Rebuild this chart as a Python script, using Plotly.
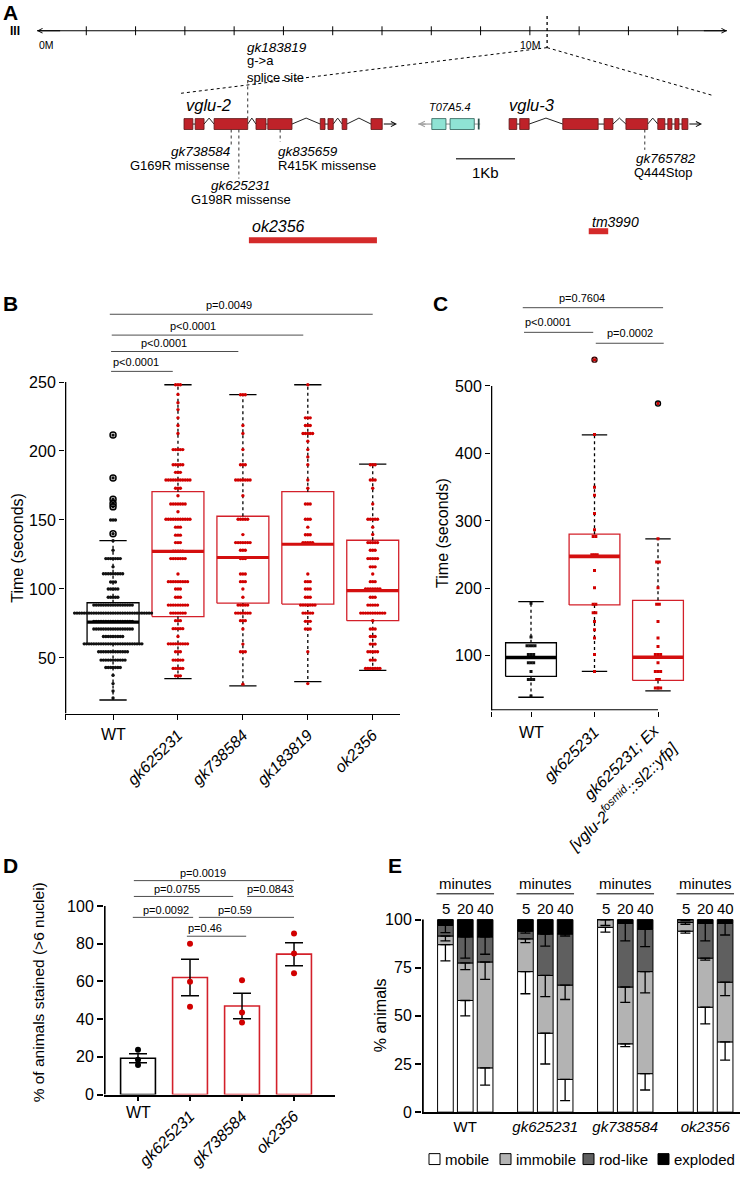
import plotly.graph_objects as go

W, H = 742, 1180
FONT = "Liberation Sans, Arial, sans-serif"
RED = "#d3202a"
DOT_RED = "#d10000"
EXON_RED = "#bf2229"
EXON_EDGE = "#5a1616"
CYAN = "#8fe3d4"
SIG = "#4d4d4d"

# ---------------- Panel A data ----------------
chrom_len_mb = 14.0
chrom_ticks_mb = list(range(1, 14))
chrom_label_text = ["0M", "10M"]
chrom_label_mb = [0, 10]
locus_mb = 10.35

vglu2_exon_start = [0.00, 0.19, 0.51, 1.22, 1.42, 2.31, 2.44, 2.68, 3.17]
vglu2_exon_end = [0.15, 0.34, 1.08, 1.39, 1.83, 2.39, 2.53, 2.76, 3.36]
vglu2_intron_peak = [False, True, True, False, True, False, True, True]
vglu2_arrow_end = 3.61
t07_exon_start = [4.20, 4.51]
t07_exon_end = [4.44, 4.92]
t07_tick = 4.98
t07_span = [3.97, 5.02]
vglu3_exon_start = [5.51, 5.69, 6.42, 7.12, 7.49, 8.03, 8.20, 8.32, 8.44]
vglu3_exon_end = [5.64, 5.85, 7.02, 7.27, 7.86, 8.15, 8.27, 8.39, 8.54]
vglu3_intron_peak = [False, True, False, True, True, False, False, False]
vglu3_arrow_end = 8.78

mut_names = ["gk183819", "gk738584", "gk625231", "gk835659", "gk765782"]
mut_kb = [1.08, 0.80, 0.93, 1.63, 7.81]
mut_desc = ["g-&gt;a<br>splice site", "G169R missense", "G198R missense", "R415K missense", "Q444Stop"]
del_names = ["ok2356", "tm3990"]
del_start = [1.10, 6.86]
del_end = [3.27, 7.19]
scalebar_kb = [4.61, 5.61]

# ---------------- Panel B data ----------------
b_groups = ["WT", "gk625231", "gk738584", "gk183819", "ok2356"]
b_q1 = [60.4, 80.0, 89.7, 89.0, 77.0]
b_med = [76.0, 127.3, 122.8, 132.4, 98.8]
b_q3 = [90.0, 170.5, 152.7, 170.5, 135.3]
b_lo = [19.5, 35.0, 29.7, 32.8, 41.0]
b_hi = [135.0, 248.0, 240.8, 248.0, 190.4]
b_wt_vals = [211.5, 180.5, 165, 162, 159.5, 150, 140, 135, 128, 122, 116, 111, 105, 100, 94, 88.3, 82.5, 76.5, 71, 65.5, 60.2, 54.5, 48.4, 43, 37.4, 31.4, 26, 21]
b_wt_counts = [1, 1, 1, 1, 1, 3, 1, 1, 1, 7, 1, 9, 3, 5, 5, 17, 33, 17, 17, 9, 25, 13, 11, 7, 1, 1, 1, 1]
b_gk625231_vals = [248, 241, 235, 230, 224, 218.5, 212.7, 201, 190, 184.5, 179, 173, 167.6, 161.6, 156, 150.5, 144.8, 139, 133.6, 127.3, 122, 110.8, 105.3, 100, 94, 88.3, 82.5, 77, 71.2, 65.5, 60.2, 54.5, 48.4, 42.4, 37]
b_gk625231_counts = [3, 1, 1, 1, 1, 1, 1, 5, 5, 3, 11, 3, 1, 7, 1, 11, 3, 3, 3, 5, 7, 1, 9, 3, 3, 9, 7, 3, 5, 1, 9, 3, 5, 5, 3]
b_gk738584_vals = [240.8, 218.5, 212.7, 201, 190, 179, 167.6, 150.5, 139.4, 133.6, 128, 122, 110.8, 105.3, 100, 94, 88.3, 82.5, 77, 71, 60, 54.5, 31]
b_gk738584_counts = [3, 1, 1, 1, 3, 7, 1, 5, 1, 7, 3, 3, 3, 3, 1, 1, 5, 7, 3, 1, 1, 3, 1]
b_gk183819_vals = [248, 224, 218.5, 212.7, 207, 201, 195.7, 190, 179, 173, 161.6, 150.5, 144.8, 139.3, 133.6, 110.8, 105.3, 100, 94, 88.3, 82.5, 76.5, 71, 54.5, 31.4]
b_gk183819_counts = [1, 3, 3, 5, 1, 1, 1, 1, 1, 1, 3, 3, 1, 3, 5, 1, 3, 3, 3, 7, 5, 3, 3, 1, 1]
b_ok2356_vals = [190, 179, 173, 161.6, 150.5, 144.8, 139.5, 133.6, 128, 122, 116, 110.8, 105.3, 100, 94, 88.3, 82.5, 77, 71, 65.5, 60, 54.5, 48.4, 42.4]
b_ok2356_counts = [3, 3, 1, 1, 5, 1, 1, 5, 3, 5, 3, 1, 3, 7, 3, 5, 11, 1, 3, 3, 3, 5, 3, 7]
b_wt_outliers = [211.5, 180.5, 165, 162, 159.5, 140]
b_sig_text = ["p&lt;0.0001", "p&lt;0.0001", "p&lt;0.0001", "p=0.0049"]
b_sig_x0 = [-0.03, -0.03, -0.02, -0.05]
b_sig_x1 = [0.92, 1.93, 2.93, 4.0]
b_sig_y = [257.7, 272.1, 284.0, 299.1]
b_sig_tx = [0.35, 0.79, 1.23, 1.78]

# ---------------- Panel C data ----------------
c_labels = ["WT", "<i>gk625231</i>", "<i>gk625231; Ex</i>", "<i>[vglu-2<sup>fosmid</sup>::sl2::yfp]</i>"]
c_q1 = [69.5, 175.5, 63.6]
c_med = [97.5, 247.5, 98.0]
c_q3 = [119.5, 280.4, 182.3]
c_lo = [38.7, 77.0, 48.0]
c_hi = [180.4, 427.5, 273.5]
c_wt_vals = [178, 128, 115, 102, 90, 77, 65, 40.5]
c_wt_counts = [1, 1, 4, 3, 3, 1, 3, 1]
c_gk_vals = [539, 428, 350, 338, 311, 287, 277, 250, 226.5, 201, 176.5, 164, 151, 138.7, 126.5, 102, 77]
c_gk_counts = [1, 1, 1, 1, 1, 1, 2, 3, 1, 1, 2, 2, 1, 1, 1, 1, 1]
c_ex_vals = [474, 273.5, 239, 201, 176.5, 151, 126.5, 114, 102, 90, 77, 65, 52.5]
c_ex_counts = [1, 1, 2, 1, 2, 1, 1, 1, 3, 1, 3, 2, 3]
c_outliers = [[], [539], [474]]
c_sig_text = ["p=0.7604", "p&lt;0.0001", "p=0.0002"]
c_sig_x0 = [-0.13, -0.11, 1.02]
c_sig_x1 = [2.08, 0.98, 2.09]
c_sig_y = [616.0, 579.5, 563.3]
c_sig_tx = [0.80, 0.27, 1.56]

# ---------------- Panel D data ----------------
d_groups = ["WT", "gk625231", "gk738584", "ok2356"]
d_mean = [19.3, 62.1, 47.0, 74.5]
d_sem = [2.4, 9.7, 6.8, 6.1]
d_points = [[23.8, 18.5, 15.7], [80.0, 59.8, 46.6], [60.6, 43.6, 38.2], [85.4, 74.9, 64.3]]
d_sig_text = ["p=0.0019", "p=0.0755", "p=0.0843", "p=0.0092", "p=0.59", "p=0.46"]
d_sig_x0 = [-0.08, -0.08, 2.10, -0.10, 1.17, 0.94]
d_sig_x1 = [3.0, 1.83, 3.0, 1.06, 3.0, 2.08]
d_sig_y = [113.5, 105.1, 105.1, 94.0, 94.0, 84.0]
d_sig_tx = [1.25, 0.75, 2.54, 0.54, 1.87, 1.29]

# ---------------- Panel E data ----------------
e_groups = ["WT", "gk625231", "gk738584", "ok2356"]
e_times = ["5", "20", "40"]
e_states = ["mobile", "immobile", "rod-like", "exploded"]
e_mobile = [[87, 58, 23], [73, 41, 17], [96, 35.5, 20], [94, 54.5, 36.5]]
e_immobile = [[4.5, 19.5, 55], [17, 30, 49], [4, 29.5, 53], [4.5, 25.5, 31]]
e_rodlike = [[5.5, 13.5, 13], [4, 21.5, 26.5], [0, 33, 22], [1.5, 18, 30.5]]
e_exploded = [[3, 9, 9], [6, 7.5, 7.5], [0, 2, 5], [0, 2, 2]]
# lower error (SEM) drawn below the top of each segment
e_mobile_err = [[8.4, 8, 9], [11.5, 16, 11], [2.5, 1.5, 8.5], [1, 8.6, 9.5]]
e_immobile_err = [[2.5, 3.5, 9], [2, 11, 7.5], [3, 8, 11], [1, 1, 7]]
e_rodlike_err = [[3.8, 11, 9], [1, 6.3, 1], [0, 9, 9], [0.5, 9, 6]]
e_colors = ["#ffffff", "#b3b3b3", "#5f5f5f", "#000000"]

fig = go.Figure()
shapes = []
annotations = []


def txt(x, y, s, size, xref="paper", yref="paper", xanchor="center", yanchor="middle", angle=0,
        color="black", align="center"):
    if xref == "paper":
        x = x / W
    if yref == "paper":
        y = 1 - y / H
    annotations.append(dict(x=x, y=y, xref=xref, yref=yref, text=s, showarrow=False, align=align,
                            font=dict(size=size, color=color, family=FONT),
                            xanchor=xanchor, yanchor=yanchor, textangle=angle))


def line_tr(x, y, xa, ya, color="black", width=1.0, dash=None):
    fig.add_trace(go.Scatter(x=x, y=y, mode="lines", line=dict(color=color, width=width, dash=dash),
                             xaxis=xa, yaxis=ya, hoverinfo="skip", showlegend=False))


def arrow(x_head, x_tail, y, xa, ya, color="black", width=1.0):
    annotations.append(dict(x=x_head, y=y, ax=x_tail, ay=y, xref=xa, yref=ya, axref=xa, ayref=ya,
                            text="", showarrow=True, arrowhead=5, arrowsize=0.9, arrowwidth=width,
                            arrowcolor=color))


# ================= Panel A =================
A_CHR_DOM = (37, 727)
GENE_RANGE = (-184 / 59, (742 - 184) / 59)
CHR_Y = 31
GENE_Y = 125
EX_H = 5.5

line_tr([0, chrom_len_mb], [CHR_Y, CHR_Y], "x5", "y5", width=1)
arrow(0, 0.5, CHR_Y, "x5", "y5")
arrow(chrom_len_mb, chrom_len_mb - 0.5, CHR_Y, "x5", "y5")
tx, ty = [], []
for t in chrom_ticks_mb:
    tx += [t, t, None]
    ty += [CHR_Y - 4.5, CHR_Y + 4.5, None]
line_tr(tx, ty, "x5", "y5", width=1)
for s, m in zip(chrom_label_text, chrom_label_mb):
    txt(m, CHR_Y + 14, s, 10.5, xref="x5", yref="y5",
        xanchor="left" if m == 0 else "center")
txt(15, CHR_Y, "<b>III</b>", 12)
line_tr([locus_mb, locus_mb], [CHR_Y - 15, 48], "x5", "y5", width=1.3, dash="dot")

locus_px = A_CHR_DOM[0] + locus_mb / chrom_len_mb * (A_CHR_DOM[1] - A_CHR_DOM[0])
locus_kb = GENE_RANGE[0] + locus_px / W * (GENE_RANGE[1] - GENE_RANGE[0])
line_tr([locus_kb, -0.05], [48, 94], "x6", "y5", width=1, dash="dot")
line_tr([locus_kb, 8.95], [48, 96], "x6", "y5", width=1, dash="dot")


def intron_path(starts, ends, peaks, y):
    xs, ys = [], []
    for i in range(len(starts) - 1):
        a, b = ends[i], starts[i + 1]
        if peaks[i]:
            xs += [a, (a + b) / 2, b, None]
            ys += [y, y - 6, y, None]
        else:
            xs += [a, b, None]
            ys += [y, y, None]
    return xs, ys


for st, en, pk, ae in [(vglu2_exon_start, vglu2_exon_end, vglu2_intron_peak, vglu2_arrow_end),
                       (vglu3_exon_start, vglu3_exon_end, vglu3_intron_peak, vglu3_arrow_end)]:
    ix, iy = intron_path(st, en, pk, GENE_Y)
    line_tr(ix, iy, "x6", "y5", color="#222222", width=1)
    arrow(ae, en[-1], GENE_Y, "x6", "y5", width=1.1)
    for a, b in zip(st, en):
        shapes.append(dict(type="rect", xref="x6", yref="y5", x0=a, x1=b, y0=GENE_Y - EX_H, y1=GENE_Y + EX_H,
                           fillcolor=EXON_RED, line=dict(color=EXON_EDGE, width=0.8)))

gx = [t07_span[0], t07_exon_start[0], None, t07_exon_end[0], t07_exon_start[1], None, t07_exon_end[1], t07_span[1]]
gy = [GENE_Y, GENE_Y, None, GENE_Y, GENE_Y, None, GENE_Y, GENE_Y]
line_tr(gx, gy, "x6", "y5", color="#a0a0a0", width=1.2)
arrow(t07_span[0], t07_span[0] + 0.15, GENE_Y, "x6", "y5", color="#a0a0a0", width=1.2)
for a, b in zip(t07_exon_start, t07_exon_end):
    shapes.append(dict(type="rect", xref="x6", yref="y5", x0=a, x1=b, y0=GENE_Y - EX_H, y1=GENE_Y + EX_H,
                       fillcolor=CYAN, line=dict(color="#2c5e57", width=0.8)))
shapes.append(dict(type="rect", xref="x6", yref="y5", x0=t07_tick, x1=t07_tick + 0.03, y0=GENE_Y - EX_H,
                   y1=GENE_Y + EX_H, fillcolor="#2c4e4a", line=dict(width=0)))

txt(0.0, 106, "<i>vglu-2</i>", 16.5, xref="x6", yref="y5", xanchor="left")
txt(4.12, 108, "<i>T07A5.4</i>", 11, xref="x6", yref="y5", xanchor="left")
txt(5.47, 106, "<i>vglu-3</i>", 16.5, xref="x6", yref="y5", xanchor="left")

mut_line_top = [81, 130.5, 130.5, 130.5, 130.5]
mut_line_bot = [119.5, 146, 180, 143, 151]
for k, xkb in enumerate(mut_kb):
    line_tr([xkb, xkb], [mut_line_top[k], mut_line_bot[k]], "x6", "y5", color="#333333", width=1, dash="dot")
txt(mut_kb[0] - 0.04, 48, "<i>" + mut_names[0] + "</i>", 13.5, xref="x6", yref="y5", xanchor="left")
txt(mut_kb[0] - 0.04, 70, mut_desc[0], 13, xref="x6", yref="y5", xanchor="left", align="left")
txt(mut_kb[1] + 0.02, 153, "<i>" + mut_names[1] + "</i>", 13.5, xref="x6", yref="y5", xanchor="right")
txt(mut_kb[1] + 0.02, 167, mut_desc[1], 13, xref="x6", yref="y5", xanchor="right")
txt(mut_kb[2] + 0.02, 187, "<i>" + mut_names[2] + "</i>", 13.5, xref="x6", yref="y5")
txt(mut_kb[2] + 0.04, 201, mut_desc[2], 13, xref="x6", yref="y5")
txt(mut_kb[3] - 0.07, 153, "<i>" + mut_names[3] + "</i>", 13.5, xref="x6", yref="y5", xanchor="left")
txt(mut_kb[3] - 0.07, 167, mut_desc[3], 13, xref="x6", yref="y5", xanchor="left")
txt(mut_kb[4] + 0.36, 160, "<i>" + mut_names[4] + "</i>", 13.5, xref="x6", yref="y5")
txt(mut_kb[4] + 0.31, 174, mut_desc[4], 13, xref="x6", yref="y5")

line_tr(scalebar_kb, [160, 160], "x6", "y5", color="#444444", width=1.5)
txt(sum(scalebar_kb) / 2, 174, "1Kb", 15, xref="x6", yref="y5")
del_y = [242, 233]
del_label_y = [228, 224]
del_label_size = [16, 14]
for k in range(2):
    line_tr([del_start[k], del_end[k]], [del_y[k], del_y[k]], "x6", "y5", color="#d42a2a", width=6)
    txt(del_start[k] + 0.02, del_label_y[k], "<i>" + del_names[k] + "</i>", del_label_size[k],
        xref="x6", yref="y5", xanchor="left")


# ================= helpers for box panels =================
def swarm(center, vals, counts, step):
    xs, ys = [], []
    for v, n in zip(vals, counts):
        for k in range(n):
            xs.append(center + (k - (n - 1) / 2) * step)
            ys.append(v)
    return xs, ys


def box_frame(xa, ya, c, q1, q3, lo, hi, bw, cw, color, lw):
    line_tr([c - bw, c + bw, c + bw, c - bw, c - bw], [q1, q1, q3, q3, q1], xa, ya, color=color, width=lw)
    line_tr([c, c, None, c, c], [q3, hi, None, q1, lo], xa, ya, color="black", width=lw, dash="3px,3px")
    line_tr([c - cw, c + cw, None, c - cw, c + cw], [hi, hi, None, lo, lo], xa, ya, color="black", width=lw)


# ================= Panel B =================
B_XR = [-0.74, 4.42]
B_YR = [9.7, 311.1]
b_vals = [b_wt_vals, b_gk625231_vals, b_gk738584_vals, b_gk183819_vals, b_ok2356_vals]
b_counts = [b_wt_counts, b_gk625231_counts, b_gk738584_counts, b_gk183819_counts, b_ok2356_counts]
for i in range(5):
    col = "black" if i == 0 else RED
    box_frame("x", "y", i, b_q1[i], b_q3[i], b_lo[i], b_hi[i], 0.40, 0.21, col, 1.3)
for i in range(5):
    xs, ys = swarm(i, b_vals[i], b_counts[i], 0.037)
    fig.add_trace(go.Scatter(x=xs, y=ys, mode="markers", xaxis="x", yaxis="y", showlegend=False,
                             hoverinfo="skip",
                             marker=dict(size=3.4, color="#111111" if i == 0 else DOT_RED, line=dict(width=0))))
for i in range(5):
    col = "black" if i == 0 else "#d40f0f"
    line_tr([i - 0.40, i + 0.40], [b_med[i], b_med[i]], "x", "y", color=col, width=3.2)
fig.add_trace(go.Scatter(x=[0] * len(b_wt_outliers), y=b_wt_outliers, mode="markers", xaxis="x", yaxis="y",
                         showlegend=False, hoverinfo="skip",
                         marker=dict(symbol="circle-open", size=6, color="black", line=dict(width=1.5))))
line_tr([B_XR[0] + 0.01, B_XR[0] + 0.01], [B_YR[0], 250], "x", "y", width=1.3)
for k in range(4):
    shapes.append(dict(type="line", xref="x", yref="y", x0=b_sig_x0[k], x1=b_sig_x1[k], y0=b_sig_y[k],
                       y1=b_sig_y[k], line=dict(color=SIG, width=1)))
    txt(b_sig_tx[k], b_sig_y[k] + 6.5, b_sig_text[k], 11, xref="x", yref="y")
txt(0, 740, "WT", 16, xref="x")
txt(18, 552, "Time (seconds)", 16, angle=-90)

# ================= Panel C =================
C_XR = [-0.63, 2.504]
C_YR = [19, 645.5]
c_vals = [c_wt_vals, c_gk_vals, c_ex_vals]
c_counts = [c_wt_counts, c_gk_counts, c_ex_counts]
for i in range(3):
    col = "black" if i == 0 else RED
    box_frame("x2", "y2", i, c_q1[i], c_q3[i], c_lo[i], c_hi[i], 0.40, 0.20, col, 1.3)
for i in range(3):
    xs, ys = swarm(i, c_vals[i], c_counts[i], 0.042)
    fig.add_trace(go.Scatter(x=xs, y=ys, mode="markers", xaxis="x2", yaxis="y2", showlegend=False,
                             hoverinfo="skip",
                             marker=dict(symbol="square", size=3, color="#111111" if i == 0 else DOT_RED,
                                         line=dict(width=0))))
for i in range(3):
    col = "black" if i == 0 else "#d40f0f"
    line_tr([i - 0.40, i + 0.40], [c_med[i], c_med[i]], "x2", "y2", color=col, width=3.6)
for i in range(3):
    if c_outliers[i]:
        fig.add_trace(go.Scatter(x=[i] * len(c_outliers[i]), y=c_outliers[i], mode="markers", xaxis="x2",
                                 yaxis="y2", showlegend=False, hoverinfo="skip",
                                 marker=dict(symbol="circle-open", size=5, color="#3a0000" if i == 1 else "black",
                                             line=dict(width=1.4))))
line_tr([C_XR[0] + 0.01, C_XR[0] + 0.01], [C_YR[0], 500], "x2", "y2", width=1.3)
line_tr([C_XR[0], 2.0], [C_YR[0] + 0.9, C_YR[0] + 0.9], "x2", "y2", width=1.3)
for k in range(3):
    shapes.append(dict(type="line", xref="x2", yref="y2", x0=c_sig_x0[k], x1=c_sig_x1[k], y0=c_sig_y[k],
                       y1=c_sig_y[k], line=dict(color=SIG, width=1)))
    txt(c_sig_tx[k], c_sig_y[k] + 15, c_sig_text[k], 11, xref="x2", yref="y2")
txt(0, 738, c_labels[0], 16, xref="x2")
txt(665, 724, c_labels[2], 16, xanchor="right", yanchor="top", angle=-45)
txt(684, 740, c_labels[3], 16, xanchor="right", yanchor="top", angle=-45)
txt(443, 537, "Time (seconds)", 16, angle=-90)

# ================= Panel D =================
D_XR = [-0.654, 3.788]
D_YR = [0, 123.7]
fig.add_trace(go.Bar(x=list(range(4)), y=d_mean, xaxis="x3", yaxis="y3", width=0.67, showlegend=False,
                     hoverinfo="skip",
                     marker=dict(color="white", line=dict(color=["black", RED, RED, RED], width=1.6)),
                     error_y=dict(type="data", array=d_sem, color="black", thickness=1.5, width=9)))
for i in range(4):
    fig.add_trace(go.Scatter(x=[i] * len(d_points[i]), y=d_points[i], mode="markers", xaxis="x3", yaxis="y3",
                             showlegend=False, hoverinfo="skip",
                             marker=dict(size=6, color="black" if i == 0 else DOT_RED)))
line_tr([D_XR[0] + 0.012, D_XR[0] + 0.012], [0, 100], "x3", "y3", width=2)
for k in range(6):
    shapes.append(dict(type="line", xref="x3", yref="y3", x0=d_sig_x0[k], x1=d_sig_x1[k], y0=d_sig_y[k],
                       y1=d_sig_y[k], line=dict(color=SIG, width=1)))
    txt(d_sig_tx[k], d_sig_y[k] + 4.1, d_sig_text[k], 11, xref="x3", yref="y3")
txt(0, 1121, "WT", 16, xref="x3")
txt(38, 1000, "% of animals stained (&gt;6 nuclei)", 15.5, angle=-90)

# ================= Panel E =================
E_XR = [-1.18, 14.84]
E_YR = [0, 122]
E_STEP = 4.03
e_vals = [e_mobile, e_immobile, e_rodlike, e_exploded]
e_errs = [e_mobile_err, e_immobile_err, e_rodlike_err]
ex, ebase, eval_list = [], [[] for _ in range(4)], [[] for _ in range(4)]
for g in range(4):
    for t in range(3):
        ex.append(g * E_STEP + t)
        cum = 0
        for s in range(4):
            ebase[s].append(cum)
            eval_list[s].append(e_vals[s][g][t])
            cum += e_vals[s][g][t]
for s in range(4):
    fig.add_trace(go.Bar(x=ex, y=eval_list[s], base=ebase[s], xaxis="x4", yaxis="y4", width=0.79,
                         showlegend=False, hoverinfo="skip",
                         marker=dict(color=e_colors[s], line=dict(color="black", width=1))))
for s in range(3):
    tops = [ebase[s][k] + eval_list[s][k] for k in range(len(ex))]
    errs = [e_errs[s][g][t] for g in range(4) for t in range(3)]
    fig.add_trace(go.Scatter(x=ex, y=tops, mode="markers", xaxis="x4", yaxis="y4", showlegend=False,
                             hoverinfo="skip", marker=dict(size=1, color="rgba(0,0,0,0)"),
                             error_y=dict(type="data", symmetric=False, array=[0] * len(errs), arrayminus=errs,
                                          color="black", thickness=1.3, width=5)))
line_tr([E_XR[0] + 0.04, E_XR[0] + 0.04], [0, 100], "x4", "y4", width=2)
for g in range(4):
    c0 = g * E_STEP
    txt(c0 + 1, 118.6, "minutes", 15, xref="x4", yref="y4")
    shapes.append(dict(type="line", xref="x4", yref="y4", x0=c0 - 0.45, x1=c0 + 2.45, y0=113.4, y1=113.4,
                       line=dict(color="black", width=1)))
    for t in range(3):
        txt(c0 + t + (0.05 if t == 0 else 0), 105.7, e_times[t], 15, xref="x4", yref="y4")
txt(380, 1023, "% animals", 16, angle=-90)
leg_x = [429, 500, 583, 658]
for s in range(4):
    shapes.append(dict(type="rect", xref="paper", yref="paper", x0=leg_x[s] / W, x1=(leg_x[s] + 11) / W,
                       y0=1 - 1173.5 / H, y1=1 - 1162.5 / H, fillcolor=e_colors[s],
                       line=dict(color="black", width=1)))
    txt(leg_x[s] + 14, 1168, e_states[s], 15, xanchor="left")

for L, (lx, ly) in zip("ABCDE", [(10, 13), (10, 306), (440, 306), (10, 872), (395, 872)]):
    txt(lx, ly, "<b>" + L + "</b>", 21)


def dom_x(a, b):
    return [a / W, b / W]


def dom_y(top, bottom):
    return [1 - bottom / H, 1 - top / H]


common = dict(showgrid=False, zeroline=False, color="black", tickcolor="black",
              tickfont=dict(family=FONT, size=16, color="black"))

fig.update_layout(
    width=W, height=H, margin=dict(l=0, r=0, t=0, b=0),
    paper_bgcolor="white", plot_bgcolor="rgba(0,0,0,0)",
    font=dict(family=FONT, color="black"),
    barmode="overlay", showlegend=False,
    shapes=shapes, annotations=annotations,
    xaxis=dict(domain=dom_x(65, 400), range=B_XR, anchor="y", showline=True, linewidth=1.3, linecolor="black",
               ticks="outside", ticklen=5, tickwidth=1.3, tickangle=-45,
               tickvals=[B_XR[0], 0, 1, 2, 3, 4],
               ticktext=["", ""] + ["<i>%s</i>" % g for g in b_groups[1:]], **common),
    yaxis=dict(domain=dom_y(300, 719), range=B_YR, anchor="x", showline=False, ticks="outside", ticklen=5,
               tickwidth=1.3, tickvals=[50, 100, 150, 200, 250], **common),
    xaxis2=dict(domain=dom_x(491, 690), range=C_XR, anchor="y2", showline=False, ticks="outside", ticklen=5,
                tickwidth=1.3, tickangle=-45, tickvals=[C_XR[0], 0, 1, 2],
                ticktext=["", "", c_labels[1], ""], **common),
    yaxis2=dict(domain=dom_y(290, 716), range=C_YR, anchor="x2", showline=False, ticks="outside", ticklen=5,
                tickwidth=1.3, tickvals=[100, 200, 300, 400, 500], **common),
    xaxis3=dict(domain=dom_x(104, 335), range=D_XR, anchor="y3", showline=True, linewidth=2, linecolor="black",
                ticks="outside", ticklen=4, tickwidth=1.5, tickangle=-45, tickvals=[0, 1, 2, 3],
                ticktext=[""] + ["<i>%s</i>" % g for g in d_groups[1:]], **common),
    yaxis3=dict(domain=dom_y(868, 1103), range=D_YR, anchor="x3", showline=False, ticks="outside", ticklen=6,
                tickwidth=2, tickvals=[0, 20, 40, 60, 80, 100], **common),
    xaxis4=dict(domain=dom_x(422, 740), range=E_XR, anchor="y4", showline=True, linewidth=2, linecolor="black",
                ticks="", tickvals=[g * E_STEP + 1 for g in range(4)],
                ticktext=["WT"] + ["<i>%s</i>" % g for g in e_groups[1:]],
                **{**common, "tickfont": dict(family=FONT, size=15, color="black")}),
    yaxis4=dict(domain=dom_y(884, 1120.7), range=E_YR, anchor="x4", showline=False, ticks="outside", ticklen=6,
                tickwidth=2, tickvals=[0, 25, 50, 75, 100], **common),
    xaxis5=dict(domain=dom_x(*A_CHR_DOM), range=[0, chrom_len_mb], anchor="y5", visible=False),
    yaxis5=dict(domain=dom_y(0, 250), range=[250, 0], anchor="x6", visible=False),
    xaxis6=dict(domain=[0, 1], range=list(GENE_RANGE), anchor="y5", visible=False),
)

fig.write_html("out.html", config={"displayModeBar": False},
               post_script="document.body.style.margin='0px';document.body.style.overflow='hidden';")
